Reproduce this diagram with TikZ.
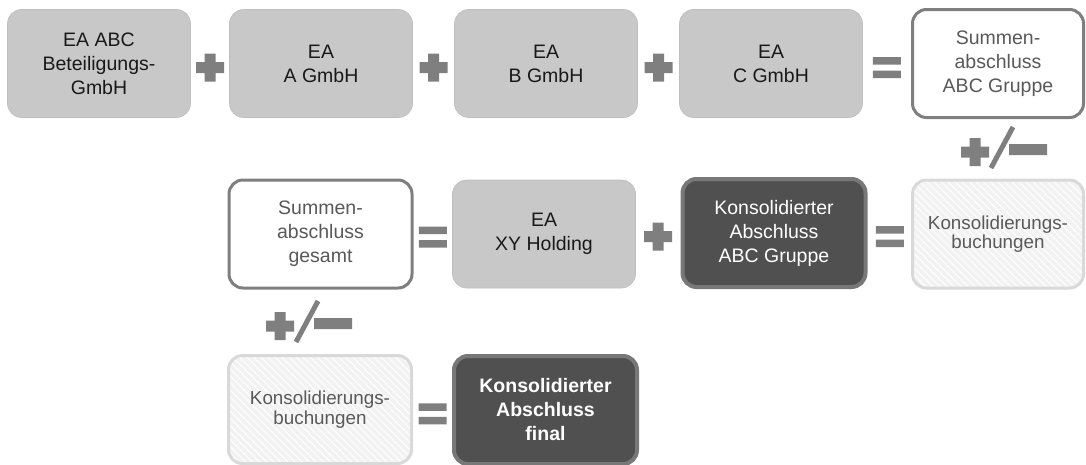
\documentclass[tikz,border=0pt]{standalone}
\usepackage{fontspec}
\setmainfont{Liberation Sans}
\usetikzlibrary{calc,patterns.meta}
\definecolor{boxgray}{RGB}{200,200,200}
\definecolor{darkfill}{RGB}{80,80,80}
\definecolor{darkline}{RGB}{120,120,120}
\definecolor{signgray}{RGB}{127,127,127}
\definecolor{textgray}{RGB}{89,89,89}
\definecolor{hatchline}{RGB}{217,217,217}

\begin{document}
\begin{tikzpicture}[x=1pt, y=-1pt,
  box/.style={rounded corners=14pt, minimum width=183pt, minimum height=108pt,
    inner sep=0pt, align=center, font=\fontsize{19.5}{24}\selectfont},
  ea/.style={box, fill=boxgray, draw=boxgray!95!black, line width=.6pt, text=black!90},
  sum/.style={box, fill=white, draw=signgray, line width=3pt, text=textgray},
  kons/.style={box, fill=darkfill, draw=darkline, line width=4pt, text=white},
  buch/.style={box, draw=hatchline, line width=3pt, text=textgray,
    font=\fontsize{18.8}{19.5}\selectfont, preaction={fill=black!5},
    pattern={Lines[angle=-45,distance=5pt,line width=1pt]}, pattern color=white},
  plus/.pic={\fill[signgray] (-14,-5.5) rectangle (14,5.5) (-5.5,-14) rectangle (5.5,14);},
  eq/.pic={\fill[signgray] (-14,-10.5) rectangle (14,-3) (-14,3) rectangle (14,10.5);},
  pm/.pic={\fill[signgray] (-42,-1.5) rectangle (-14,9.5) (-33.5,-10) rectangle (-22.5,18)
      (6,-4) rectangle (44,7);
    \draw[signgray, line width=5pt] (-12,20) -- (10,-21);}]
  \useasboundingbox (0,0) rectangle (1086,464);

  % Einzelabschluesse
  \node[ea] (eaabc) at (99,63.5) {EA ABC\\Beteiligungs-\\GmbH};
  \node[ea] (eaa) at (321,63.5) {EA\\A GmbH};
  \node[ea] (eab) at (546,63.5) {EA\\B GmbH};
  \node[ea] (eac) at (771,63.5) {EA\\C GmbH};
  \node[sum, minimum width=171pt] (sabc) at (998,63.5) {Summen-\\abschluss\\ABC Gruppe};

  % Holding-Ebene
  \node[sum] (sges) at (320.5,234) {Summen-\\abschluss\\gesamt};
  \node[ea] (eaxy) at (544,234) {EA\\XY Holding};
  \node[kons] (kabc) at (774,233) {Konsolidierter\\Abschluss\\ABC Gruppe};
  \node[buch, minimum width=171pt] (kb1) at (998,234) {Konsolidierungs-\\buchungen};

  \node[buch] (kb2) at (320,409.5) {Konsolidierungs-\\buchungen};
  \node[kons, font=\bfseries\fontsize{19.5}{24}\selectfont] (final) at (545.5,410)
    {Konsolidierter\\Abschluss\\final};

  % Rechenzeichen
  \pic at ($(eaabc.east)!.5!(eaa.west)+(0,4)$) {plus};
  \pic at ($(eaa.east)!.5!(eab.west)+(0,4)$) {plus};
  \pic at ($(eab.east)!.5!(eac.west)+(0,4)$) {plus};
  \pic at ($(eac.east)!.5!(sabc.west)+(0,4)$) {eq};
  \pic at ($(sges.east)!.5!(eaxy.west)+(0,3)$) {eq};
  \pic at ($(eaxy.east)!.5!(kabc.west)+(0,3)$) {plus};
  \pic at ($(kabc.east)!.5!(kb1.west)+(0,3)$) {eq};
  \pic at ($(kb2.east)!.5!(final.west)+(0,4)$) {eq};
  \pic at (1003,148) {pm};
  \pic at (308,322) {pm};
\end{tikzpicture}
\end{document}
